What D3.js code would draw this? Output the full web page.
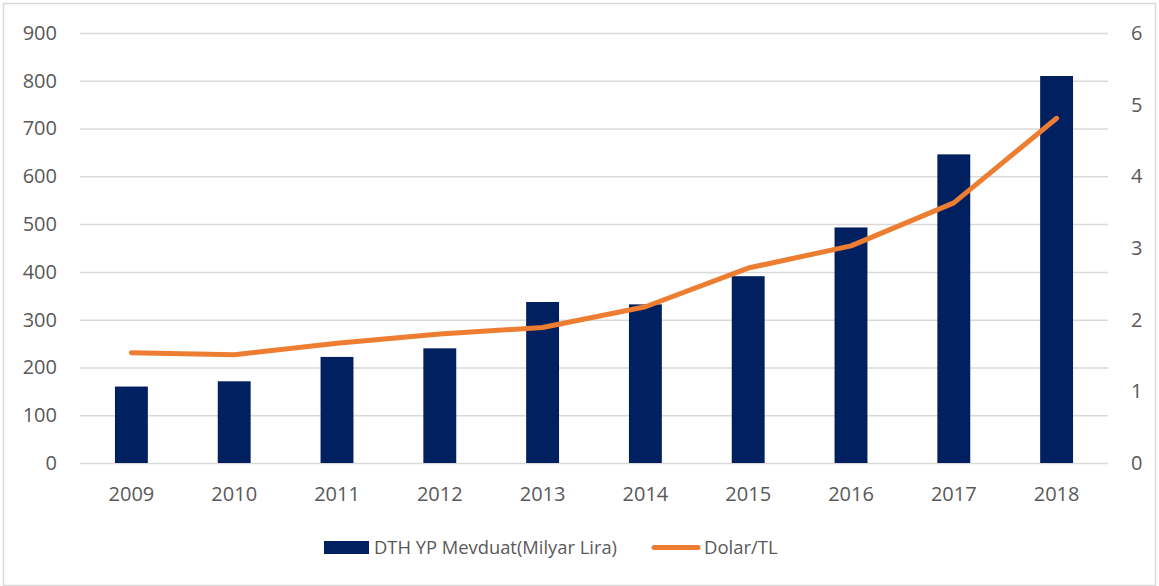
<!DOCTYPE html>
<html>
<head>
<meta charset="utf-8">
<script src="https://cdn.jsdelivr.net/npm/d3@7"></script>
<style>
  body { margin: 0; background: #fff; }
  text { font-family: "Open Sans", sans-serif; fill: #595959; }
</style>
</head>
<body>
<svg width="1159" height="586"></svg>
<script>
// yillar ve seriler
const years = ["2009", "2010", "2011", "2012", "2013", "2014", "2015", "2016", "2017", "2018"];
const deposits = [160, 171, 222, 240, 337, 332, 391, 493, 646, 810]; // DTH YP Mevduat (milyar lira)
const usdTry = [1.54, 1.51, 1.67, 1.80, 1.89, 2.18, 2.72, 3.03, 3.63, 4.81]; // Dolar/TL
const leftTicks = [0, 100, 200, 300, 400, 500, 600, 700, 800, 900];
const rightTicks = [0, 1, 2, 3, 4, 5, 6];

const svg = d3.select("svg");
const W = +svg.attr("width"), H = +svg.attr("height");

// cerceve
svg.append("rect")
  .attr("x", 3.5).attr("y", 3.5)
  .attr("width", W - 7).attr("height", H - 4)
  .attr("fill", "none").attr("stroke", "#d9d9d9").attr("stroke-width", 1.5);

const plotL = 80, plotR = 1108, plotT = 33, plotB = 463;

const x = d3.scaleBand().domain(years).range([plotL, plotR]).paddingInner(0.68).paddingOuter(0.34);
const y = d3.scaleLinear().domain([0, 900]).range([plotB, plotT]);
const y2 = d3.scaleLinear().domain([0, 6]).range([plotB, plotT]);

// grid + sol eksen
svg.append("g")
  .attr("transform", `translate(${plotL},0)`)
  .call(d3.axisLeft(y).tickValues(leftTicks).tickSize(-(plotR - plotL)).tickPadding(23))
  .call(g => g.select(".domain").remove())
  .call(g => g.selectAll("line").attr("stroke", "#d9d9d9").attr("stroke-width", 1.5))
  .call(g => g.selectAll("text").attr("font-size", 20).attr("font-family", "Open Sans").attr("fill", "#595959"));

// sag eksen
svg.append("g")
  .attr("transform", `translate(${plotR},0)`)
  .call(d3.axisRight(y2).tickValues(rightTicks).tickFormat(d3.format("d")).tickSize(0).tickPadding(23))
  .call(g => g.select(".domain").remove())
  .call(g => g.selectAll("text").attr("font-size", 20).attr("font-family", "Open Sans").attr("fill", "#595959"));

svg.append("g")
  .attr("transform", `translate(0,${plotB})`)
  .call(d3.axisBottom(x).tickSize(0).tickPadding(24))
  .call(g => g.select(".domain").remove())
  .call(g => g.selectAll("text").attr("font-size", 20).attr("font-family", "Open Sans").attr("fill", "#595959"));

// barlar
svg.append("g").selectAll("rect")
  .data(years)
  .join("rect")
  .attr("x", d => x(d))
  .attr("width", x.bandwidth())
  .attr("y", (d, i) => y(deposits[i]))
  .attr("height", (d, i) => plotB - y(deposits[i]))
  .attr("fill", "#002060");

// cizgi
const line = d3.line()
  .x((d, i) => x(years[i]) + x.bandwidth() / 2)
  .y(d => y2(d));

svg.append("path")
  .attr("d", line(usdTry))
  .attr("fill", "none")
  .attr("stroke", "#ed7d31")
  .attr("stroke-width", 5)
  .attr("stroke-linecap", "round")
  .attr("stroke-linejoin", "round");

// legend
const lg = svg.append("g");
lg.append("rect").attr("x", 324).attr("y", 541).attr("width", 45).attr("height", 13).attr("fill", "#002060");
lg.append("text").attr("x", 374).attr("y", 548).attr("dy", "0.35em").attr("font-size", 18.5)
  .attr("textLength", 243).attr("lengthAdjust", "spacingAndGlyphs")
  .text("DTH YP Mevduat(Milyar Lira)");
lg.append("line").attr("x1", 654).attr("x2", 698).attr("y1", 547.5).attr("y2", 547.5)
  .attr("stroke", "#ed7d31").attr("stroke-width", 5).attr("stroke-linecap", "round");
lg.append("text").attr("x", 704).attr("y", 548).attr("dy", "0.35em").attr("font-size", 18.5)
  .text("Dolar/TL");
</script>
</body>
</html>
